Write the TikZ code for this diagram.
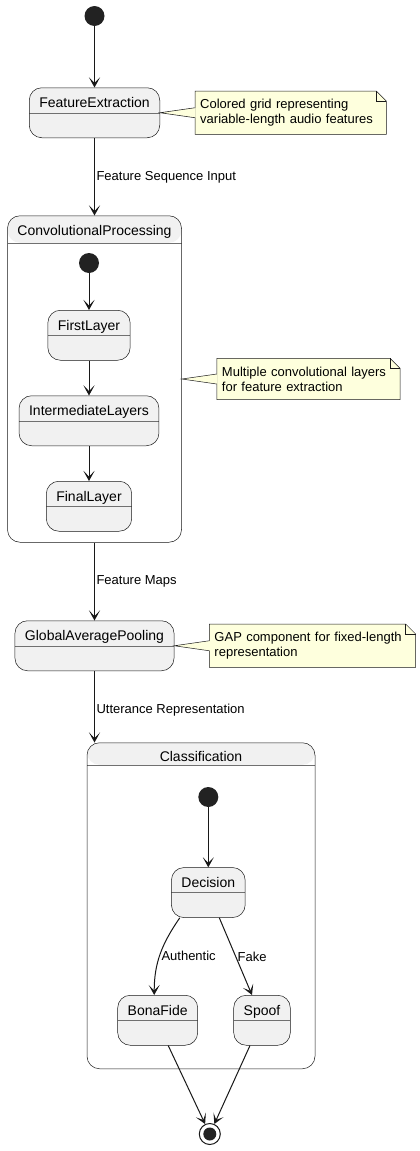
\documentclass[tikz,border=0pt]{standalone}
\usepackage{fontspec}
\setmainfont{Liberation Sans}
\usepackage{tikz}
\usetikzlibrary{positioning}
\usetikzlibrary{calc}
\usetikzlibrary{arrows.meta}
\usetikzlibrary{backgrounds}
\definecolor{statefill}{HTML}{F1F1F1}
\definecolor{linec}{HTML}{181818}
\definecolor{notefill}{HTML}{FEFFDD}
\definecolor{startc}{HTML}{222222}
\definecolor{divc}{HTML}{707070}
\tikzset{compound/.style={draw=linec,line width=0.5pt,fill=white,rounded corners=12.5pt,inner sep=0pt,anchor=north,
         path picture={\fill[statefill] (path picture bounding box.north west) rectangle ([yshift=-#1]path picture bounding box.north east);
                       \draw[divc,line width=0.5pt] ([yshift=-#1]path picture bounding box.north west) -- ([yshift=-#1]path picture bounding box.north east);}}}
\tikzstyle{stbox}=[draw=linec,line width=0.5pt,fill=statefill,rounded corners=12.5pt,inner ysep=0pt,inner xsep=10pt,text height=20pt,text depth=30pt,anchor=north,font=\fontsize{14}{16}\selectfont,
         path picture={\draw[divc,line width=0.5pt] ([yshift=-25pt]path picture bounding box.north west) -- ([yshift=-25pt]path picture bounding box.north east);}]
\tikzstyle{title}=[font=\fontsize{14}{16}\selectfont,inner sep=0pt]
\tikzstyle{lbl}=[font=\fontsize{13}{15}\selectfont,anchor=west,inner xsep=1.5pt,inner ysep=1pt]
\tikzstyle{note}=[font=\fontsize{13}{15.3}\selectfont,align=left,inner xsep=5pt,inner ysep=0pt,minimum height=43pt]
\tikzstyle{notebg}=[fill=notefill,draw=linec,line width=0.5pt]
\tikzstyle{trans}=[draw=linec,line width=1pt,-{Stealth[length=10pt,width=11pt,inset=5.5pt]}]
\tikzstyle{startdot}=[circle,fill=startc,minimum size=20pt,inner sep=0pt]
\tikzstyle{enddot}=[circle,draw=linec,line width=1pt,minimum size=21pt,inner sep=0pt,path picture={\fill[startc] (path picture bounding box.center) circle (6.5pt);}]
\begin{document}
\begin{tikzpicture}[x=1pt,y=-1pt]
	\useasboundingbox (0,0) rectangle (420,1151);
	\node[startdot] (start) at (94.5,16) {};
	\node[stbox] (fe) at (94.5,87.5) {FeatureExtraction};
	\node[note,text width=181pt,right=35pt of fe] (fenote) {Colored grid representing\\variable-length audio features};
	
	\node[compound=27pt,minimum width=174pt,minimum height=326.5pt] (conv) at (94.5,215.5) {};
	\node[title,anchor=base] (convtitle) at ([yshift=-20pt]conv.north) {ConvolutionalProcessing};
	\node[startdot] (convstart) at (89,263) {};
	\node[stbox] (firstlayer) at (89,310) {FirstLayer};
	\node[stbox] (interlayers) at (89,395.5) {IntermediateLayers};
	\node[stbox] (finallayer) at (89,481) {FinalLayer};
	\node[note,text width=173pt,minimum height=41pt,right=35pt of conv] (convnote) {Multiple convolutional layers\\for feature extraction};
	
	\node[stbox] (gap) at (94.5,620.5) {GlobalAveragePooling};
	\node[note,text width=196pt,right=35pt of gap] (gapnote) {GAP component for fixed-length\\representation};
	
	\node[compound=22pt,minimum width=228pt,minimum height=326pt] (class) at (201,742.5) {};
	\node[title,anchor=base] (classtitle) at ([yshift=-19pt]class.north) {Classification};
	\node[startdot] (classstart) at (208.3,797) {};
	\node[stbox] (decision) at (208.3,867.3) {Decision};
	\node[stbox] (bonafide) at (157.7,995) {BonaFide};
	\node[stbox] (spoof) at (262,995) {Spoof};
	\node[enddot] (stop) at (209.8,1134) {};
	
	\begin{scope}[on background layer]
		\foreach \n in {fenote,convnote,gapnote}
			\filldraw[notebg] (\n.north west) -- ([xshift=-10pt]\n.north east) -- ([yshift=-10pt]\n.north east) -- (\n.south east) -- (\n.south west) -- cycle;
	\end{scope}
	\foreach \n in {fenote,convnote,gapnote}
		\draw[linec,line width=0.5pt] ([xshift=-10pt]\n.north east) -- ([xshift=-10pt,yshift=-10pt]\n.north east) -- ([yshift=-10pt]\n.north east);
	\foreach \s/\n in {fe/fenote,conv/convnote,gap/gapnote}{
		\fill[notefill] (\s.east) -- ($(\n.west)+(0.6pt,5pt)$) -- ($(\n.west)+(0.6pt,-5pt)$) -- cycle;
		\draw[linec,line width=0.5pt] ($(\n.west)+(0,5pt)$) -- (\s.east) -- ($(\n.west)+(0,-5pt)$);
	}
	
	\draw[trans] (start) -- (fe);
	\draw[trans] (fe) -- node[lbl,pos=0.51] {Feature Sequence Input} (conv);
	\draw[trans] (convstart) -- (firstlayer);
	\draw[trans] (firstlayer) -- (interlayers);
	\draw[trans] (interlayers) -- (finallayer);
	\draw[trans] (conv) -- node[lbl,pos=0.5] {Feature Maps} (gap);
	\draw[trans] (gap) -- node[lbl,pos=0.55] {Utterance Representation} (gap.south |- class.north);
	\draw[trans] (classstart) -- (decision);
	\draw[trans] ([xshift=-28.5pt]decision.south) .. controls +(-18pt,-26pt) and +(0pt,32pt) .. node[lbl,pos=0.53] {Authentic} ([xshift=-3.5pt]bonafide.north);
	\draw[trans] ([xshift=11pt]decision.south) -- node[lbl,pos=0.5] {Fake} ([xshift=-10pt]spoof.north);
	\draw[trans] ([xshift=10.5pt]bonafide.south) -- (stop);
	\draw[trans] ([xshift=-12pt]spoof.south) -- (stop);
\end{tikzpicture}
\end{document}
